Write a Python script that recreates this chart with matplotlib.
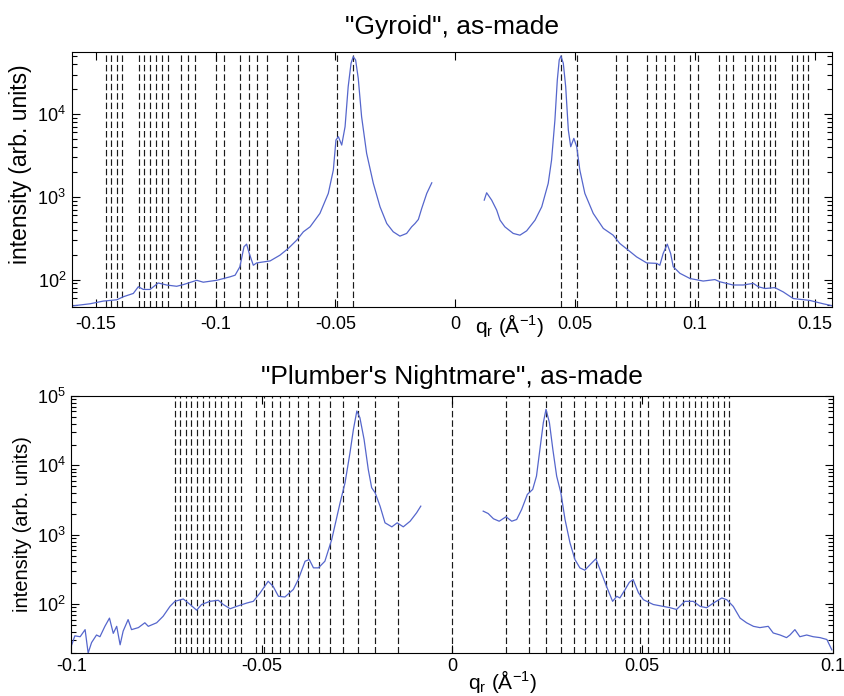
import numpy as np
import matplotlib
matplotlib.use("Agg")
import matplotlib.pyplot as plt
from matplotlib.ticker import LogLocator, NullFormatter, LogFormatterSciNotation

plt.rcParams['font.family'] = ['Liberation Sans', 'DejaVu Sans']
plt.rcParams['mathtext.fontset'] = 'custom'
plt.rcParams['mathtext.rm'] = 'Liberation Sans'
plt.rcParams['mathtext.it'] = 'Liberation Sans:italic'
plt.rcParams['mathtext.default'] = 'regular'
plt.rcParams['axes.unicode_minus'] = False

# ---------------- Gyroid, as-made: radial SAXS profile ----------------
gyr_q_left = [-0.1600, -0.1525, -0.1469, -0.1413, -0.1386, -0.1344, -0.1323, -0.1302,
              -0.1274, -0.1240, -0.1205, -0.1163, -0.1135, -0.1079, -0.1052, -0.0996,
              -0.0940, -0.0919, -0.0899, -0.0882, -0.0871, -0.0860, -0.0843, -0.0829,
              -0.0773, -0.0732, -0.0697, -0.0662, -0.0634, -0.0606, -0.0565, -0.0530,
              -0.0509, -0.0498, -0.0488, -0.0474, -0.0460, -0.0447, -0.0435, -0.0426,
              -0.0416, -0.0405, -0.0391, -0.0370, -0.0342, -0.0314, -0.0286, -0.0259,
              -0.0231, -0.0203, -0.0182, -0.0168, -0.0154, -0.0140, -0.0119, -0.0098]
gyr_I_left = [48, 51, 55, 57, 62, 68, 82, 76,
              76, 91, 86, 83, 87, 98, 93, 98,
              108, 113, 143, 249, 268, 207, 149, 159,
              168, 197, 238, 299, 378, 434, 630, 1099,
              2104, 4853, 5321, 4217, 7031, 21380, 41020, 49320,
              44980, 27040, 9290, 3350, 1452, 757, 476, 378,
              335, 361, 434, 476, 533, 724, 1099, 1476]

gyr_q_right = [0.0121, 0.0131, 0.0152, 0.0173, 0.0187, 0.0207, 0.0242, 0.0270,
               0.0298, 0.0333, 0.0361, 0.0388, 0.0402, 0.0416, 0.0426, 0.0434,
               0.0441, 0.0451, 0.0461, 0.0472, 0.0482, 0.0495, 0.0507, 0.0520,
               0.0541, 0.0576, 0.0618, 0.0659, 0.0687, 0.0722, 0.0757, 0.0799,
               0.0841, 0.0854, 0.0868, 0.0885, 0.0899, 0.0910, 0.0938, 0.0980,
               0.1035, 0.1084, 0.1105, 0.1160, 0.1202, 0.1244, 0.1265, 0.1293,
               0.1334, 0.1369, 0.1411, 0.1480, 0.1536, 0.1564, 0.1575]
gyr_I_right = [912, 1119, 912, 690, 522, 434, 361, 344,
               388, 522, 757, 1452, 2780, 8450, 25760, 44980,
               50230, 41020, 21380, 6412, 4027, 5082, 4027, 2104,
               1099, 630, 415, 344, 273, 227, 188, 159,
               157, 149, 207, 268, 207, 143, 119, 103,
               96, 100, 94, 86, 86, 90, 82, 78,
               80, 71, 59, 56, 51, 49, 48]

# Ia3d allowed reflections h^2+k^2+l^2 and lattice spacing unit
gyr_hkl_sum = [6, 8, 14, 16, 20, 22, 24, 26, 30, 32, 38, 40, 42,
               46, 48, 50, 52, 54, 56, 62, 64, 66, 68]
gyr_q_unit = 0.01776
gyr_q_center = 0.0007

# ---------------- Plumber's Nightmare, as-made ----------------
pn_q_left = [-0.0999, -0.0991, -0.0977, -0.0964, -0.0956, -0.0947, -0.0934, -0.0925,
             -0.0912, -0.0900, -0.0890, -0.0881, -0.0872, -0.0864, -0.0851, -0.0842,
             -0.0824, -0.0807, -0.0798, -0.0776, -0.0759, -0.0741, -0.0728, -0.0706,
             -0.0688, -0.0671, -0.0658, -0.0636, -0.0614, -0.0601, -0.0583, -0.0566,
             -0.0539, -0.0522, -0.0504, -0.0483, -0.0470, -0.0456, -0.0439, -0.0417,
             -0.0404, -0.0386, -0.0375, -0.0364, -0.0351, -0.0334, -0.0316, -0.0294,
             -0.0281, -0.0268, -0.0259, -0.0250, -0.0242, -0.0231, -0.0220, -0.0211,
             -0.0202, -0.0189, -0.0176, -0.0158, -0.0144, -0.0128, -0.0110, -0.0093,
             -0.0082]
pn_I_left = [26, 35, 34, 43, 19.8, 28, 36, 34,
             48, 63, 38, 48, 26, 41, 60, 43,
             46, 54, 48, 54, 67, 93, 110, 119,
             99, 82, 99, 110, 114, 99, 86, 93,
             104, 110, 146, 214, 181, 130, 127, 163,
             226, 416, 441, 334, 334, 416, 855, 2897,
             5623, 15240, 33040, 60810, 48750, 23710, 8750, 4764,
             4036, 2588, 1489, 1303, 1489, 1303, 1570, 2075,
             2588]

pn_q_right = [0.0082, 0.0095, 0.0109, 0.0124, 0.0142, 0.0157, 0.0170, 0.0183,
              0.0198, 0.0212, 0.0222, 0.0231, 0.0240, 0.0247, 0.0256, 0.0265,
              0.0275, 0.0286, 0.0297, 0.0310, 0.0323, 0.0336, 0.0349, 0.0363,
              0.0378, 0.0389, 0.0406, 0.0422, 0.0433, 0.0441, 0.0455, 0.0466,
              0.0476, 0.0490, 0.0503, 0.0529, 0.0555, 0.0573, 0.0590, 0.0612,
              0.0634, 0.0652, 0.0669, 0.0687, 0.0709, 0.0722, 0.0739, 0.0757,
              0.0774, 0.0792, 0.0809, 0.0831, 0.0844, 0.0862, 0.0879, 0.0888,
              0.0901, 0.0914, 0.0932, 0.0949, 0.0967, 0.0985, 0.0998]
pn_I_right = [2193, 2028, 1702, 1570, 1820, 1570, 1663, 2317,
              3819, 4508, 7015, 17020, 41300, 64270, 41300, 17020,
              7015, 4036, 1663, 767, 441, 334, 309, 372,
              451, 316, 181, 110, 130, 123, 163, 207,
              226, 146, 116, 99, 93, 89, 84, 110,
              110, 93, 89, 104, 123, 116, 93, 63,
              54, 48, 46, 48, 38.5, 36, 33, 36,
              43, 34, 36, 34, 33, 31, 22]

# Im3m allowed reflections (including the beam position) and unit spacing
pn_hkl_sum = [0, 2, 4, 6, 8, 10, 12, 14, 16, 18, 20, 22, 24, 26,
              30, 32, 34, 36, 38, 40, 42, 44, 46, 48, 50, 52]
pn_q_unit = 0.0101

gyr_ticks = [-0.15, -0.1, -0.05, 0, 0.05, 0.1, 0.15]
gyr_ticklabels = ['-0.15', '-0.1', '-0.05', '0', '0.05', '0.1', '0.15']
pn_ticks = [-0.1, -0.05, 0, 0.05, 0.1]
pn_ticklabels = ['-0.1', '-0.05', '0', '0.05', '0.1']

curve_color = '#5566cc'
dash_color = '#1a1a1a'
dash_style = (0, (5.5, 2.5))

fig = plt.figure(figsize=(8.45, 6.96), dpi=100)
ax1 = fig.add_axes([0.0849, 0.5593, 0.8998, 0.3664])
ax2 = fig.add_axes([0.0845, 0.0622, 0.9008, 0.3688])


def style_axis(ax, ylabel_size):
    ax.set_yscale('log')
    ax.tick_params(which='both', direction='in', top=True, right=True,
                   labelsize=13, width=0.8)
    ax.tick_params(which='major', length=6)
    ax.tick_params(which='minor', length=3.5)
    ax.yaxis.set_major_locator(LogLocator(base=10))
    ax.yaxis.set_minor_locator(LogLocator(base=10, subs=np.arange(2, 10)))
    ax.yaxis.set_major_formatter(LogFormatterSciNotation())
    ax.yaxis.set_minor_formatter(NullFormatter())
    for s in ax.spines.values():
        s.set_linewidth(0.8)
    ax.set_ylabel('intensity (arb. units)', fontsize=ylabel_size)


# Top panel
style_axis(ax1, 16.5)
for n in gyr_hkl_sum:
    qn = gyr_q_unit * np.sqrt(n)
    for q in (gyr_q_center - qn, gyr_q_center + qn):
        ax1.axvline(q, color=dash_color, lw=0.85, ls=dash_style, zorder=1)
ax1.plot(gyr_q_left, gyr_I_left, color=curve_color, lw=0.9, zorder=2)
ax1.plot(gyr_q_right, gyr_I_right, color=curve_color, lw=0.9, zorder=2)
ax1.set_xlim(-0.1601, 0.1573)
ax1.set_ylim(47, 56600)
ax1.set_xticks(gyr_ticks)
ax1.set_xticklabels(gyr_ticklabels)
ax1.tick_params(axis='x', pad=7)
ax1.tick_params(axis='y', pad=4)
ax1.set_title('"Gyroid", as-made', fontsize=19, pad=13)
ax1.set_xlabel('q$_r$ (Å$^{-1}$)', fontsize=15)
ax1.xaxis.set_label_coords(0.576, -0.02)
ax1.yaxis.set_label_coords(-0.052, 0.56)

# Bottom panel
style_axis(ax2, 14.5)
for n in pn_hkl_sum:
    qn = pn_q_unit * np.sqrt(n)
    for q in sorted({-qn, qn}):
        ax2.axvline(q, color=dash_color, lw=0.85, ls=dash_style, zorder=1)
ax2.plot(pn_q_left, pn_I_left, color=curve_color, lw=0.9, zorder=2)
ax2.plot(pn_q_right, pn_I_right, color=curve_color, lw=0.9, zorder=2)
ax2.set_xlim(-0.1, 0.1)
ax2.set_ylim(20, 1e5)
ax2.set_xticks(pn_ticks)
ax2.set_xticklabels(pn_ticklabels)
ax2.tick_params(axis='x', pad=4)
ax2.tick_params(axis='y', pad=4)
ax2.set_title('"Plumber\'s Nightmare", as-made', fontsize=19, pad=9)
ax2.set_xlabel('q$_r$ (Å$^{-1}$)', fontsize=15)
ax2.xaxis.set_label_coords(0.566, -0.058)
ax2.yaxis.set_label_coords(-0.052, 0.5)

fig.savefig('out.png', dpi=100)
